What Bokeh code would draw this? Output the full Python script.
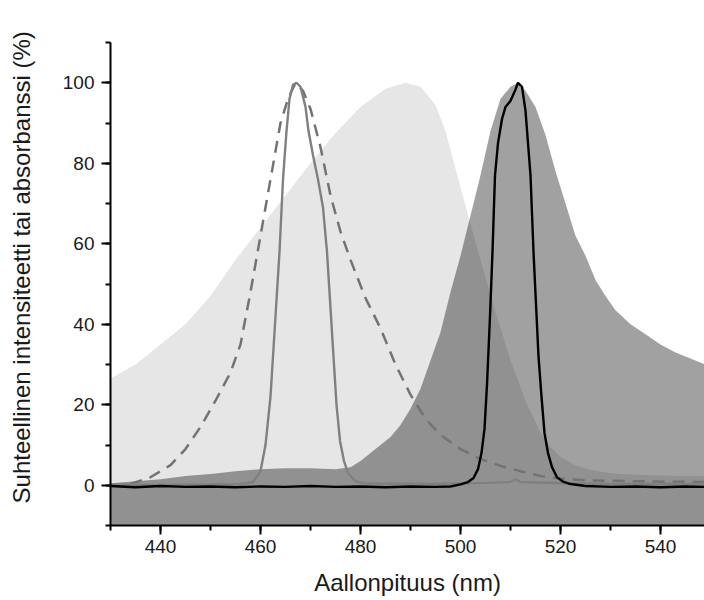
from bokeh.plotting import figure
from bokeh.models import SingleIntervalTicker, Range1d
from bokeh.embed import file_html
from bokeh.resources import INLINE

# Light broad band (absorbance)
abs_x = [430, 435, 440, 445, 450, 455, 460, 465, 470, 475, 480, 485, 489, 492, 495,
         497, 500, 502, 504, 507, 510, 513, 516, 518, 520, 523, 526, 530, 535, 540, 549]
abs_y = [26.5, 30, 35, 40, 47, 56, 64, 72, 80, 87.5, 94, 98.5, 100, 99, 94.5,
         88, 74, 65, 56, 43, 31, 21, 13, 9.5, 7, 5, 3.8, 3, 2.6, 2.4, 2.2]

# Dark band (emission)
em_x = [430, 435, 440, 445, 450, 455, 460, 465, 470, 475, 478, 480, 483, 486, 488, 490,
        492, 494, 496, 498, 500, 502, 504, 506, 508, 510, 511.5, 513, 515, 517, 519, 521,
        523, 525, 527, 529, 531, 534, 537, 540, 543, 546, 549]
em_y = [0.5, 1, 1.5, 2.3, 2.8, 3.5, 4, 4.2, 4.2, 4, 4.5, 6, 9, 12, 15, 19,
        24, 31, 38, 48, 57, 67, 77, 88, 96, 99, 100, 98, 94, 87, 78, 70,
        62, 57, 51, 47, 43.5, 40, 37.5, 35, 33, 31.5, 30]

# Dashed grey curve
dash_x = [434, 438, 442, 445, 448, 451, 454, 456, 458, 460, 462, 464, 465.5, 467, 468.5,
          470, 472, 474, 476, 478, 481, 484, 487, 490, 493, 496, 500, 504, 508, 512,
          516, 520, 525, 530, 540, 549]
dash_y = [0.3, 2, 5, 9, 14.5, 21, 28, 35, 48, 62, 76, 90, 96, 100, 98,
          93.5, 84, 72, 63, 56, 46.5, 39, 30, 22.5, 16.5, 12.5, 9, 6.5, 4.8, 3.5,
          2.3, 1.6, 1.2, 1.1, 0.9, 0.8]

# Solid grey narrow peak
ex_x = [430, 440, 450, 456, 458.5, 460, 461, 462, 463, 463.8, 464.5, 465.2, 465.8, 466.5,
        467.2, 468, 469, 469.6, 470.5, 471.5, 472.5, 473.3, 474, 474.6, 475.2, 475.9,
        476.7, 477.5, 479, 481, 490, 495, 500, 505, 510, 511, 512, 520, 530, 540, 549]
ex_y = [0.2, 0.1, 0.2, 0.3, 0.8, 3.5, 10, 22, 42, 58, 76, 88, 96, 99.5,
        100, 99, 94, 88, 82, 76, 69, 58, 44, 32, 20, 11,
        6, 3, 1, 0.4, 0.4, 0.3, 0.5, 0.6, 0.8, 1.5, 0.8, 0.5, 0.3, 0.4, 0.3]

# Black narrow peak
bk_x = [430, 435, 440, 445, 450, 455, 460, 465, 470, 475, 480, 485, 490, 495, 498, 500,
        501.5, 502.6, 503.5, 504.2, 504.8, 505.3, 505.9, 506.4, 506.9, 507.5, 508.3, 509,
        510, 510.9, 511.5, 512.3, 513, 513.5, 514, 514.6, 515.1, 515.6, 516.2, 516.8,
        517.5, 518.3, 519.3, 520.5, 522, 525, 530, 535, 540, 545, 549]
bk_y = [-0.2, -0.5, -0.2, -0.4, -0.3, -0.5, -0.3, -0.4, -0.2, -0.4, -0.3, -0.5, -0.3, -0.4, -0.3, 0.2,
        0.8, 1.8, 4, 8, 14, 25, 42, 58, 77, 85, 91, 94,
        95.5, 98, 100, 99, 93, 85, 77, 58, 45, 32, 22, 13,
        8, 4.5, 2, 0.9, 0.3, -0.2, -0.4, -0.3, -0.5, -0.3, -0.4]

x_label = "Aallonpituus (nm)"
y_label = "Suhteellinen intensiteetti tai absorbanssi (%)"
x_ticks_interval = 20
y_ticks_interval = 20

p = figure(width=704, height=600, output_backend="svg", toolbar_location=None,
           x_range=Range1d(430, 548.8), y_range=Range1d(-10, 110),
           min_border_left=110, min_border_right=0, min_border_top=42, min_border_bottom=75)
p.outline_line_color = None
p.xgrid.visible = False
p.ygrid.visible = False
p.background_fill_color = "white"
p.border_fill_color = "white"

p.varea(x=abs_x, y1=-10, y2=abs_y, fill_color="#e6e6e6", fill_alpha=1.0)
p.varea(x=em_x, y1=-10, y2=em_y, fill_color="black", fill_alpha=0.37)
p.line(dash_x, dash_y, line_color="#737373", line_width=2.5, line_dash="12 8")
p.line(ex_x, ex_y, line_color="#808080", line_width=2.4)
p.line(bk_x, bk_y, line_color="black", line_width=2.4)

for ax, interval in ((p.xaxis[0], x_ticks_interval), (p.yaxis[0], y_ticks_interval)):
    ax.ticker = SingleIntervalTicker(interval=interval, num_minor_ticks=2)
    ax.axis_line_width = 2
    ax.axis_line_color = "black"
    ax.major_tick_line_width = 2
    ax.minor_tick_line_width = 2
    ax.major_tick_in = 0
    ax.major_tick_out = 9
    ax.minor_tick_in = 0
    ax.minor_tick_out = 5
    ax.major_label_text_font = "Liberation Sans"
    ax.major_label_text_font_size = "19px"
    ax.major_label_text_color = "#1a1a1a"
    ax.axis_label_text_font = "Liberation Sans"
    ax.axis_label_text_font_size = "24px"
    ax.axis_label_text_font_style = "normal"
    ax.axis_label_text_color = "#1a1a1a"

p.xaxis.major_label_standoff = 5
p.xaxis.axis_label = x_label
p.xaxis.axis_label_standoff = 13
p.yaxis.major_label_standoff = 7
# non-breaking spaces nudge the vertical title slightly upward, as in the original
p.yaxis.axis_label = "\u00a0" * 5 + y_label
p.yaxis.axis_label_standoff = 25

open("out.html", "w").write(file_html(p, INLINE))
